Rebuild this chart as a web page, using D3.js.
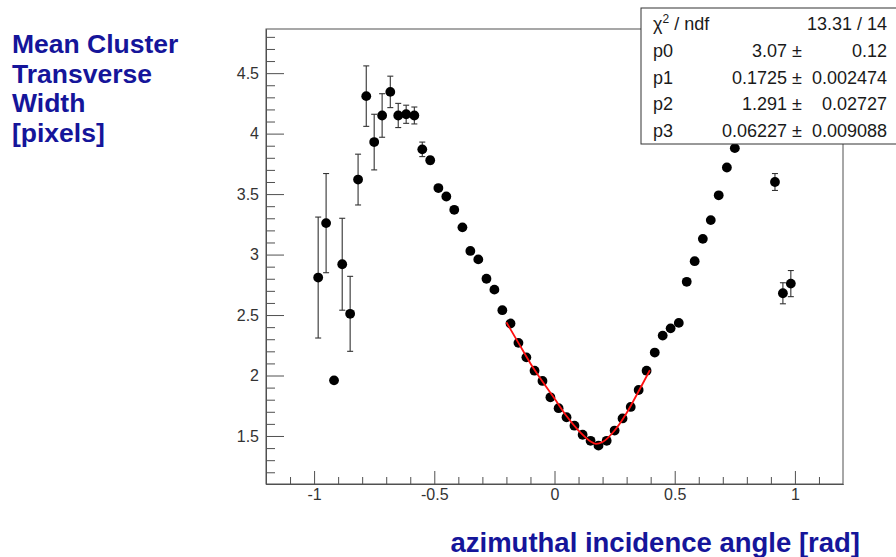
<!DOCTYPE html>
<html>
<head>
<meta charset="utf-8">
<script src="https://cdn.jsdelivr.net/npm/d3@7/dist/d3.min.js"></script>
<style>
  html, body { margin: 0; padding: 0; background: #fff; }
  svg { display: block; }
</style>
</head>
<body>
<div id="chart"></div>
<script>
// Mean cluster transverse width versus azimuthal incidence angle
const angleBins = [-0.983, -0.95, -0.917, -0.883, -0.85, -0.817, -0.783, -0.75, -0.717, -0.683,
  -0.65, -0.617, -0.583, -0.55, -0.517, -0.483, -0.45, -0.417, -0.383, -0.35,
  -0.317, -0.283, -0.25, -0.217, -0.183, -0.15, -0.117, -0.083, -0.05, -0.017,
  0.017, 0.05, 0.083, 0.117, 0.15, 0.183, 0.217, 0.25, 0.283, 0.317,
  0.35, 0.383, 0.417, 0.45, 0.483, 0.517, 0.55, 0.583, 0.617, 0.65,
  0.683, 0.717, 0.75, 0.917, 0.95, 0.983];
const meanWidth = [2.81, 3.26, 1.96, 2.92, 2.51, 3.62, 4.31, 3.93, 4.15, 4.345,
  4.15, 4.16, 4.15, 3.87, 3.78, 3.55, 3.48, 3.37, 3.225, 3.03,
  2.96, 2.80, 2.71, 2.54, 2.43, 2.27, 2.15, 2.04, 1.955, 1.82,
  1.73, 1.655, 1.585, 1.51, 1.46, 1.42, 1.46, 1.545, 1.645, 1.74,
  1.88, 2.04, 2.19, 2.33, 2.39, 2.435, 2.775, 2.945, 3.13, 3.285,
  3.49, 3.72, 3.88, 3.60, 2.68, 2.76];
const widthErr = [0.50, 0.41, 0, 0.38, 0.31, 0.21, 0.25, 0.23, 0.18, 0.13,
  0.10, 0.075, 0.07, 0.06, 0.03, 0.02, 0.02, 0.02, 0.02, 0.02,
  0.02, 0.02, 0.02, 0.02, 0.02, 0.02, 0.02, 0.02, 0.02, 0.02,
  0.02, 0.02, 0.02, 0.02, 0.02, 0.02, 0.02, 0.02, 0.02, 0.02,
  0.02, 0.02, 0.02, 0.02, 0.02, 0.02, 0.02, 0.02, 0.02, 0.02,
  0.02, 0.02, 0.02, 0.07, 0.087, 0.108];

// Fitted curve around the minimum
const fitAngle = [-0.2, -0.15, -0.1, -0.05, 0, 0.05, 0.1, 0.15, 0.1725, 0.2, 0.25, 0.3, 0.35, 0.397];
const fitWidth = [2.44, 2.27, 2.10, 1.95, 1.81, 1.665, 1.545, 1.455, 1.435, 1.45, 1.545, 1.69, 1.87, 2.045];

// Fit statistics: label, value, error
const statNames = ["p0", "p1", "p2", "p3"];
const statValues = ["3.07", "0.1725", "1.291", "0.06227"];
const statErrors = ["0.12", "0.002474", "0.02727", "0.009088"];
const chi2ndf = "13.31 / 14";

// Axis ticks
const xMajorTicks = [-1, -0.5, 0, 0.5, 1];
const xTickLabels = ["-1", "-0.5", "0", "0.5", "1"];
const yMajorTicks = [1.5, 2, 2.5, 3, 3.5, 4, 4.5];
const yTickLabels = ["1.5", "2", "2.5", "3", "3.5", "4", "4.5"];

const W = 896, H = 557;
const plot = { left: 266, right: 843, top: 29, bottom: 484 };
const FONT = '"Liberation Sans", Arial, Helvetica, sans-serif';
const TITLE_COLOR = "#15159a";
const AXIS_COLOR = "#505050";

const svg = d3.select("#chart").append("svg").attr("width", W).attr("height", H);

const x = d3.scaleLinear().domain([-1.2, 1.2]).range([plot.left, plot.right]);
const y = d3.scaleLinear().domain([1.103, 4.865]).range([plot.bottom, plot.top]);

// frame
svg.append("rect")
  .attr("x", plot.left).attr("y", plot.top)
  .attr("width", plot.right - plot.left).attr("height", plot.bottom - plot.top)
  .attr("fill", "none").attr("stroke", AXIS_COLOR).attr("stroke-width", 1);

const xMinor = d3.range(-11, 12).map(d => d / 10).filter(v => Math.abs(v * 2 - Math.round(v * 2)) > 1e-6);
const yMinor = d3.range(12, 49).map(d => d / 10).filter(v => Math.abs(v * 2 - Math.round(v * 2)) > 1e-6);

function styleAxis(g) {
  g.select(".domain").attr("stroke", AXIS_COLOR);
  g.selectAll(".tick line").attr("stroke", AXIS_COLOR);
  g.selectAll(".tick text").attr("fill", "#333").style("font-size", "16px").style("font-family", FONT);
}

// x axis: minor then major ticks, pointing inward
svg.append("g").attr("transform", `translate(0,${plot.bottom})`)
  .call(d3.axisBottom(x).tickValues(xMinor).tickSize(-7).tickSizeOuter(0).tickFormat(""))
  .call(styleAxis);
svg.append("g").attr("transform", `translate(0,${plot.bottom})`)
  .call(d3.axisBottom(x).tickValues(xMajorTicks).tickSize(-13).tickSizeOuter(0).tickPadding(5)
    .tickFormat((d, i) => xTickLabels[i]))
  .call(styleAxis);

// y axis
svg.append("g").attr("transform", `translate(${plot.left},0)`)
  .call(d3.axisLeft(y).tickValues(yMinor).tickSize(-9).tickSizeOuter(0).tickFormat(""))
  .call(styleAxis);
svg.append("g").attr("transform", `translate(${plot.left},0)`)
  .call(d3.axisLeft(y).tickValues(yMajorTicks).tickSize(-18).tickSizeOuter(0).tickPadding(7)
    .tickFormat((d, i) => yTickLabels[i]))
  .call(styleAxis);

// data points with error bars
const points = angleBins.map((a, i) => ({ a, w: meanWidth[i], e: widthErr[i] }));
const pts = svg.append("g");
const bars = pts.selectAll("g.err").data(points.filter(p => p.e > 0)).join("g").attr("class", "err")
  .attr("stroke", "#333").attr("stroke-width", 1.1);
bars.append("line")
  .attr("x1", p => x(p.a)).attr("x2", p => x(p.a))
  .attr("y1", p => y(p.w + p.e)).attr("y2", p => y(p.w - p.e));
bars.append("line")
  .attr("x1", p => x(p.a) - 3).attr("x2", p => x(p.a) + 3)
  .attr("y1", p => y(p.w + p.e)).attr("y2", p => y(p.w + p.e));
bars.append("line")
  .attr("x1", p => x(p.a) - 3).attr("x2", p => x(p.a) + 3)
  .attr("y1", p => y(p.w - p.e)).attr("y2", p => y(p.w - p.e));
pts.selectAll("circle").data(points).join("circle")
  .attr("cx", p => x(p.a)).attr("cy", p => y(p.w)).attr("r", 4.9)
  .attr("fill", "#000");

// fit curve
const fitPts = fitAngle.map((a, i) => [a, fitWidth[i]]);
svg.append("path")
  .attr("d", d3.line().x(d => x(d[0])).y(d => y(d[1])).curve(d3.curveMonotoneX)(fitPts))
  .attr("fill", "none").attr("stroke", "#ff1010").attr("stroke-width", 1.8);

// statistics box
const box = { x: 641, y: 8, w: 262, h: 136 };
const sb = svg.append("g").style("font-family", FONT).style("font-size", "18px").attr("fill", "#1a1a1a");
sb.append("rect").attr("x", box.x).attr("y", box.y).attr("width", box.w).attr("height", box.h)
  .attr("fill", "#fff").attr("stroke", "#333").attr("stroke-width", 1);
const rowY = d => 30 + d * 26.8;
const NAME_X = 653, VAL_END = 787, PM_X = 797, ERR_END = 887;

const chiRow = sb.append("text").attr("x", NAME_X).attr("y", rowY(0));
chiRow.append("tspan").text("\u03c7");
chiRow.append("tspan").text("2").attr("dy", -7).style("font-size", "12px");
chiRow.append("tspan").text(" / ndf").attr("dy", 7);
sb.append("text").attr("x", ERR_END).attr("y", rowY(0)).attr("text-anchor", "end").text(chi2ndf);

statNames.forEach((name, i) => {
  const yy = rowY(i + 1);
  sb.append("text").attr("x", NAME_X).attr("y", yy).text(name);
  sb.append("text").attr("x", VAL_END).attr("y", yy).attr("text-anchor", "end").text(statValues[i]);
  sb.append("text").attr("x", PM_X).attr("y", yy).attr("text-anchor", "middle").text("\u00b1");
  sb.append("text").attr("x", ERR_END).attr("y", yy).attr("text-anchor", "end").text(statErrors[i]);
});

// axis titles
const yTitle = ["Mean Cluster", "Transverse", "Width", "[pixels]"];
svg.append("g").selectAll("text").data(yTitle).join("text")
  .attr("x", 12).attr("y", (d, i) => 53 + i * 29.5)
  .style("font-family", FONT).style("font-weight", "bold").style("font-size", "26.5px")
  .attr("fill", TITLE_COLOR).text(d => d);

svg.append("text").attr("x", 860).attr("y", 552).attr("text-anchor", "end")
  .style("font-family", FONT).style("font-weight", "bold").style("font-size", "27.5px")
  .attr("fill", TITLE_COLOR).text("azimuthal incidence angle [rad]");
</script>
</body>
</html>
